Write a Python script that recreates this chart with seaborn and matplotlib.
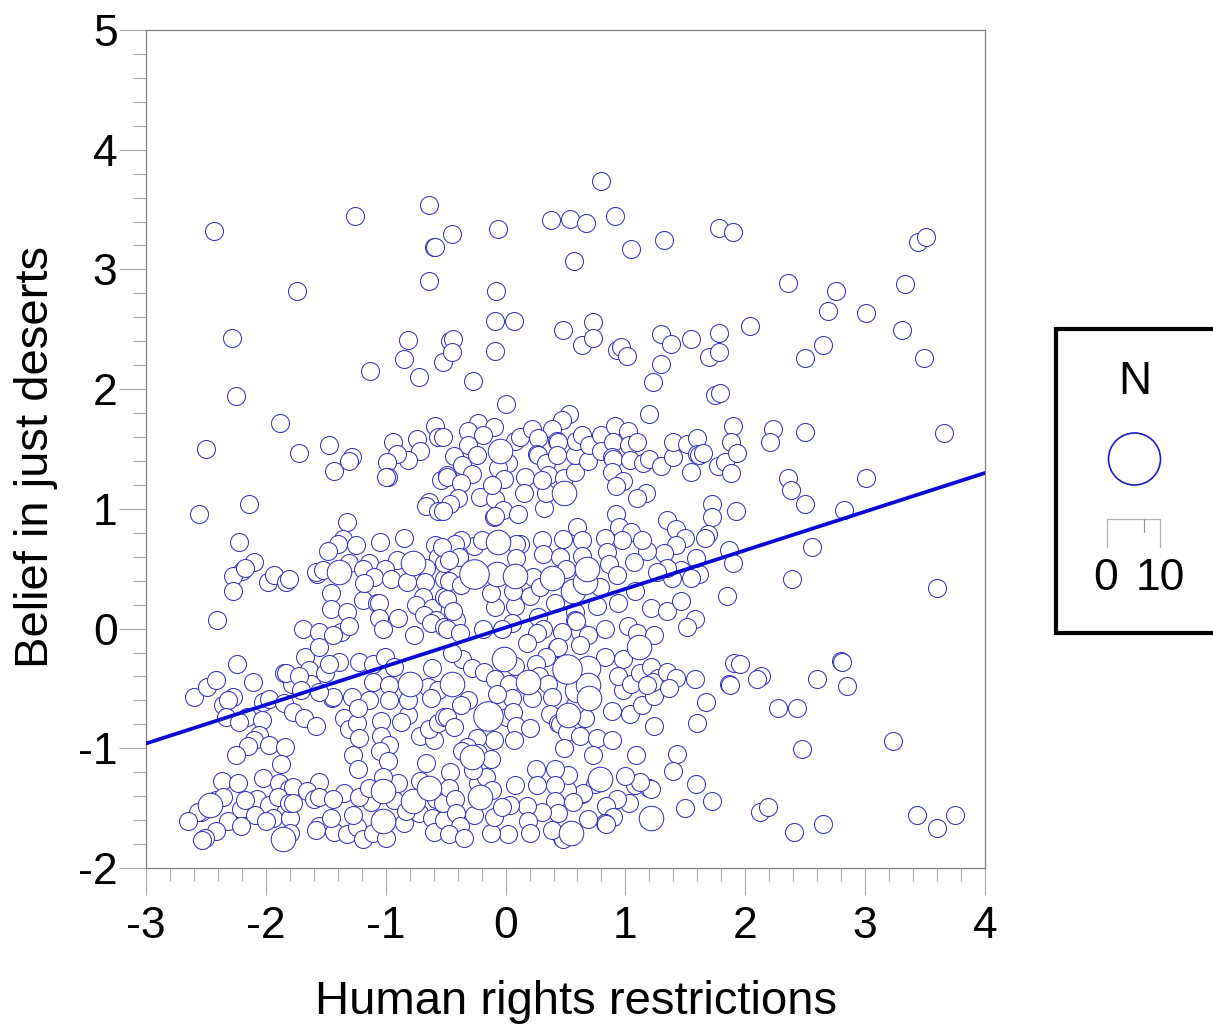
import pandas as pd
import matplotlib.pyplot as plt
import seaborn as sns
from matplotlib.patches import Circle, Rectangle
from matplotlib.ticker import MultipleLocator

# points, (x, y), grouped by N
points_top = [
    (-2.43,3.32),(-1.26,3.45),(-0.64,3.54),(-0.60,3.19),(-0.59,3.19),(-0.45,3.30),(-0.06,3.34),(0.38,3.41),
    (0.54,3.42),(0.67,3.39),(0.80,3.74),(0.91,3.45),(1.05,3.17),(1.32,3.25),(1.78,3.35),(1.90,3.31),
    (3.44,3.23),(3.51,3.27),(0.57,3.07),(-1.74,2.82),(-0.64,2.90),(-0.08,2.82),(2.36,2.89),(2.76,2.82),
    (3.33,2.88),(-2.28,2.43),(-1.13,2.15),(-0.85,2.25),(-0.81,2.41),(-0.72,2.10),(-0.52,2.23),(-0.46,2.40),
    (-0.44,2.42),(-0.45,2.31),(-0.27,2.07),(-0.09,2.57),(-0.09,2.32),(0.07,2.57),(0.48,2.49),(0.64,2.37),
    (0.73,2.56),(0.73,2.43),(0.93,2.33),(0.96,2.35),(1.01,2.28),(1.30,2.46),(1.30,2.21),(1.38,2.38),
    (1.23,2.06),(1.55,2.42),(1.70,2.27),(1.78,2.31),(1.78,2.47),(2.04,2.53),(2.50,2.26),(2.65,2.37),
    (2.69,2.65),(3.01,2.64),(3.31,2.49),(3.49,2.26),(-2.25,1.94),(1.75,1.95),(1.79,1.97),
]
points_upper = [
    (-2.50,1.50),(-2.56,0.96),(-2.14,1.04),(-1.88,1.72),(-1.72,1.47),(-1.47,1.53),(-1.43,1.32),(-1.28,1.43),
    (-1.31,1.40),(-0.94,1.56),(-0.74,1.58),(-0.71,1.48),(-0.81,1.41),(-0.91,1.46),(-0.99,1.39),(-0.98,1.27),
    (-1.00,1.27),(-0.59,1.69),(-0.56,1.60),(-0.54,1.24),(-0.49,1.28),(-0.64,1.06),(-0.66,1.02),(-0.56,0.98),
    (0.53,1.79),(0.47,1.74),(0.39,1.67),(1.20,1.79),(0.00,1.88),(-0.23,1.72),(-0.10,1.68),(-0.31,1.65),
    (-0.19,1.62),(-0.52,1.60),(-0.31,1.53),(-0.24,1.45),(-0.43,1.44),(-0.36,1.37),(-0.28,1.29),(-0.49,1.27),
    (-0.37,1.22),(-0.40,1.09),(-0.46,1.04),(-0.52,0.98),(-0.21,1.10),(-0.09,1.08),(-0.02,0.99),(-0.10,0.93),
    (-0.09,0.94),(0.10,0.96),(0.02,1.38),(-0.06,1.34),(-0.01,1.25),(-0.11,1.20),(0.08,1.57),(0.12,1.60),
    (0.22,1.67),(0.27,1.59),(0.16,1.27),(0.15,1.13),(0.32,1.01),(0.34,1.13),(0.26,1.46),(0.27,1.45),
    (0.34,1.38),(0.43,1.57),(0.44,1.56),(0.43,1.45),(0.35,1.28),(0.30,1.24),(0.49,1.26),(0.58,1.31),
    (0.58,1.45),(0.59,1.57),(0.64,1.62),(0.69,1.40),(0.70,1.53),(0.80,1.62),(0.80,1.48),(0.91,1.69),
    (1.02,1.65),(0.90,1.56),(1.03,1.53),(0.89,1.43),(0.90,1.42),(1.10,1.56),(1.04,1.41),(0.89,1.31),
    (0.98,1.23),(0.92,1.19),(1.15,1.38),(1.20,1.42),(1.30,1.36),(1.40,1.43),(1.40,1.56),(1.51,1.54),
    (1.60,1.59),(1.60,1.46),(1.61,1.45),(1.65,1.47),(1.55,1.31),(1.77,1.36),(1.83,1.39),(1.88,1.30),
    (1.90,1.69),(1.88,1.56),(1.93,1.47),(1.17,1.13),(1.10,1.09),(1.72,1.04),(1.72,0.93),(1.92,0.98),
    (2.23,1.67),(2.21,1.56),(2.50,1.64),(2.36,1.26),(2.38,1.16),(2.50,1.04),(3.01,1.26),(3.66,1.63),
    (2.82,0.99),(2.56,0.68),(2.39,0.41),(3.60,0.34),(1.69,0.79),(1.66,0.76),(0.92,0.96),(0.95,0.85),
    (1.35,0.91),(1.42,0.83),
]
points_middle = [
    (-1.32,0.89),(-1.36,0.75),(-1.40,0.71),(-1.25,0.70),(-1.48,0.65),(-2.22,0.72),(-2.10,0.56),(-2.20,0.48),
    (-2.27,0.44),(-2.17,0.51),(-2.27,0.31),(-2.41,0.07),(-1.98,0.39),(-1.93,0.45),(-1.83,0.39),(-1.81,0.41),
    (-1.57,0.46),(-1.58,0.47),(-1.52,0.49),(-1.31,0.55),(-1.46,0.30),(-1.46,0.16),(-1.32,0.14),(-1.19,0.24),
    (-1.07,0.21),(-1.06,0.21),(-1.06,0.09),(-0.90,0.09),(-1.02,0.00),(-0.76,-0.05),(-1.69,0.00),(-1.56,-0.03),
    (-1.37,-0.03),(-1.31,0.02),(-1.44,-0.05),(-1.05,0.72),(-0.85,0.76),(-0.59,0.70),(-1.14,0.55),(-0.91,0.57),
    (-0.56,0.60),(-0.66,0.51),(-1.01,0.50),(-1.19,0.50),(-1.10,0.43),(-0.96,0.41),(-0.82,0.39),(-0.67,0.39),
    (-1.18,0.38),(-0.69,0.26),(-0.75,0.20),(-0.61,0.17),(-0.68,0.11),(-0.58,0.07),(-0.62,0.05),(-0.51,0.26),
    (-0.51,0.01),(-0.51,0.41),(-0.51,0.55),(1.50,0.76),(1.42,0.70),(1.32,0.63),(1.18,0.65),(1.05,0.81),
    (1.14,0.74),(0.97,0.74),(0.83,0.76),(0.60,0.85),(0.48,0.75),(0.64,0.74),(0.30,0.74),(0.12,0.71),
    (-0.26,0.69),(-0.20,0.74),(-0.37,0.74),(-0.42,0.71),(-0.53,0.68),(0.09,0.71),(-0.39,0.60),(-0.47,0.57),
    (0.09,0.59),(0.31,0.62),(0.45,0.60),(0.64,0.61),(0.85,0.64),(0.86,0.54),(1.07,0.56),(0.93,0.45),
    (0.23,0.43),(0.50,0.50),(0.79,0.35),(0.20,0.27),(0.08,0.19),(-0.09,0.18),(-0.12,0.30),(0.06,0.31),
    (0.29,0.35),(0.41,0.21),(0.58,0.14),(0.76,0.19),(0.94,0.21),(1.08,0.31),(1.21,0.17),(1.35,0.15),
    (1.46,0.23),(1.58,0.08),(1.51,0.01),(1.85,0.27),(1.86,0.66),(1.90,0.55),(1.61,0.46),(1.59,0.59),
    (1.46,0.49),(1.39,0.42),(1.55,0.42),(1.35,0.51),(1.26,0.47),(1.02,0.02),(1.10,-0.04),(1.24,-0.05),
    (0.83,0.00),(0.62,-0.03),(0.58,0.07),(0.59,0.06),(0.47,-0.03),(0.27,0.10),(0.31,0.00),(0.26,-0.04),
    (0.05,0.05),(-0.03,0.00),(-0.19,0.00),(-0.41,0.07),(-0.49,0.00),(-0.38,-0.04),(-0.49,0.25),(-0.44,0.15),
    (-0.47,0.40),(-0.37,0.36),(0.69,-0.05),
]
points_lower = [
    (-2.60,-0.57),(-2.49,-0.49),(-2.42,-0.43),(-2.24,-0.30),(-2.11,-0.45),(-2.36,-0.64),(-2.27,-0.57),(-2.32,-0.60),
    (-2.33,-0.74),(-2.16,-0.74),(-2.22,-0.78),(-2.03,-0.76),(-2.02,-0.61),(-1.97,-0.59),(-1.85,-0.37),(-1.78,-0.46),
    (-1.83,-0.37),(-1.85,-0.62),(-1.77,-0.70),(-1.68,-0.75),(-1.58,-0.81),(-1.67,-0.24),(-1.56,-0.15),(-1.64,-0.35),
    (-1.62,-0.46),(-1.72,-0.40),(-1.71,-0.51),(-1.51,-0.37),(-1.39,-0.28),(-1.47,-0.30),(-1.45,-0.58),(-1.44,-0.57),
    (-1.56,-0.53),(-1.35,-0.75),(-1.31,-0.84),(-1.24,-0.79),(-1.22,-0.91),(-1.28,-0.57),(-1.22,-0.28),(-1.11,-0.30),
    (-1.01,-0.24),(-0.93,-0.32),(-1.11,-0.45),(-0.97,-0.47),(-0.65,-0.49),(-0.61,-0.33),(-1.14,-0.60),(-0.97,-0.60),
    (-1.23,-0.66),(-1.04,-0.77),(-0.81,-0.72),(-0.87,-0.78),(-0.81,-0.60),(-1.04,-0.90),(-0.97,-0.97),(-1.05,-1.02),
    (-0.98,-1.11),(-1.27,-1.06),(-1.23,-1.17),(-0.71,-0.90),(-0.60,-0.93),(-0.64,-0.84),(-0.66,-1.12),(-0.56,-0.79),
    (-0.51,-0.74),(-0.56,-0.51),(-0.62,-0.58),(-2.06,-0.89),(-2.10,-0.93),(-2.15,-0.98),(-2.25,-1.06),(-1.97,-0.97),
    (-1.84,-0.99),(-1.87,-1.13),(0.98,-0.25),(0.83,-0.24),(0.62,-0.14),(0.43,-0.16),(0.44,-0.15),(0.34,-0.24),
    (0.18,-0.12),(0.08,-0.31),(0.25,-0.30),(-0.36,-0.25),(-0.45,-0.20),(-0.28,-0.33),(-0.18,-0.36),(-0.09,-0.42),
    (0.03,-0.46),(0.28,-0.40),(0.35,-0.46),(0.39,-0.57),(0.22,-0.58),(0.05,-0.58),(-0.07,-0.55),(-0.31,-0.60),
    (-0.37,-0.64),(-0.49,-0.74),(-0.43,-0.82),(0.01,-0.74),(0.06,-0.70),(0.09,-0.81),(0.20,-0.83),(0.07,-0.93),
    (-0.10,-0.93),(-0.24,-0.91),(-0.32,-0.99),(-0.23,-1.04),(-0.12,-1.09),(-0.36,-1.02),(0.37,-0.71),(0.44,-0.79),
    (0.45,-0.80),(0.66,-0.75),(0.58,-0.64),(0.51,-0.86),(0.62,-0.90),(0.76,-0.91),(0.89,-0.93),(0.49,-1.00),
    (0.73,-1.06),(1.09,-1.06),(0.89,-0.69),(1.04,-0.71),(1.14,-0.64),(1.24,-0.56),(0.98,-0.51),(0.94,-0.40),
    (1.05,-0.46),(1.12,-0.37),(1.21,-0.32),(1.27,-0.41),(1.23,-0.45),(1.35,-0.36),(1.42,-0.41),(1.58,-0.42),
    (1.36,-0.50),(1.18,-0.47),(1.67,-0.61),(1.24,-0.81),(1.60,-0.79),(1.86,-0.46),(1.87,-0.47),(1.91,-0.29),
    (1.96,-0.30),(2.13,-0.40),(2.10,-0.42),(2.60,-0.42),(2.80,-0.27),(2.81,-0.28),(2.85,-0.48),(2.27,-0.66),
    (2.43,-0.66),(3.23,-0.94),(2.47,-1.01),
]
points_bottom = [
    (-2.37,-1.27),(-2.23,-1.29),(-2.02,-1.25),(-1.89,-1.29),(-1.81,-1.34),(-1.77,-1.32),(-1.56,-1.28),(-1.66,-1.36),
    (-1.60,-1.42),(-1.56,-1.41),(-2.07,-1.42),(-1.97,-1.47),(-2.21,-1.51),(-2.09,-1.56),(-1.94,-1.58),(-1.80,-1.58),
    (-2.32,-1.61),(-2.21,-1.65),(-2.42,-1.43),(-2.54,-1.53),(-2.57,-1.53),(-2.65,-1.61),(-2.42,-1.69),(-2.51,-1.75),
    (-2.53,-1.77),(-2.36,-1.41),(-2.17,-1.43),(-1.90,-1.41),(-1.81,-1.46),(-1.77,-1.46),(-2.00,-1.61),(-1.80,-1.71),
    (-1.56,-1.65),(-1.58,-1.68),(-1.43,-1.70),(-1.32,-1.72),(-1.24,-1.66),(-1.19,-1.76),(-1.11,-1.71),(-1.00,-1.75),
    (-0.85,-1.62),(-1.27,-1.56),(-1.46,-1.58),(-1.35,-1.37),(-1.44,-1.42),(-1.12,-1.45),(-1.22,-1.41),(-1.14,-1.33),
    (-0.93,-1.43),(-0.90,-1.29),(-1.02,-1.24),(-0.71,-1.27),(-0.58,-1.42),(-0.72,-1.54),(-0.83,-1.52),(-0.61,-1.58),
    (-0.60,-1.70),(-0.51,-1.60),(-0.52,-1.46),(1.43,-1.05),(1.40,-1.19),(1.59,-1.30),(1.72,-1.44),(1.50,-1.50),
    (1.20,-1.33),(1.21,-1.34),(1.08,-1.31),(1.12,-1.28),(1.00,-1.23),(1.03,-1.46),(0.93,-1.42),(0.84,-1.48),
    (0.90,-1.57),(0.83,-1.62),(0.84,-1.63),(0.69,-1.59),(0.75,-1.30),(0.64,-1.38),(0.65,-1.37),(0.51,-1.35),
    (0.52,-1.22),(0.41,-1.17),(0.25,-1.17),(0.26,-1.31),(0.08,-1.31),(0.41,-1.31),(0.41,-1.44),(0.56,-1.45),
    (0.44,-1.54),(0.30,-1.53),(0.18,-1.48),(0.04,-1.47),(0.19,-1.61),(0.20,-1.71),(0.02,-1.72),(-0.12,-1.71),
    (-0.10,-1.57),(-0.26,-1.56),(-0.23,-1.29),(-0.16,-1.24),(-0.27,-1.18),(-0.46,-1.20),(-0.47,-1.33),(-0.42,-1.42),
    (-0.41,-1.54),(-0.38,-1.65),(-0.47,-1.72),(-0.35,-1.75),(0.47,-1.75),(0.48,-1.76),(0.39,-1.68),(-0.03,-1.49),
    (-0.11,-1.35),(2.12,-1.53),(2.19,-1.49),(2.41,-1.70),(2.65,-1.63),(3.43,-1.56),(3.60,-1.67),(3.75,-1.56),
]
points_n2 = [
    (-1.39,0.47),(-0.77,0.55),(-0.80,-0.46),(-2.47,-1.47),(-1.86,-1.76),(-0.77,-1.44),(-0.64,-1.33),(-1.02,-1.36),
    (-1.02,-1.61),(-0.06,0.72),(-0.05,1.48),(0.49,1.13),(-0.07,0.46),(0.08,0.44),(0.39,0.42),(0.56,0.31),
    (0.66,0.39),(0.68,0.50),(1.11,-0.15),(-0.01,-0.25),(0.69,-0.33),(-0.45,-0.46),(0.19,-0.45),(0.60,-0.51),
    (0.69,-0.47),(0.70,-0.58),(0.52,-0.72),(-0.28,-1.07),(-0.21,-1.41),(0.79,-1.26),(0.55,-1.71),(1.21,-1.58),
]
points_n3 = [(-0.26,0.46),(0.51,-0.34),(-0.15,-0.73)]

line_x = [-3, 4]
line_y = [-0.96, 1.30]

x_ticks = [-3, -2, -1, 0, 1, 2, 3, 4]
y_ticks = [-2, -1, 0, 1, 2, 3, 4, 5]

# marker widths in px, converted to points
px = 0.72
sizes = {1: (18 * px) ** 2, 2: (24.5 * px) ** 2, 3: (29.5 * px) ** 2}

n1 = points_top + points_upper + points_middle + points_lower + points_bottom
df = pd.DataFrame(n1 + points_n2 + points_n3, columns=['x', 'y'])
df['n'] = [1] * len(n1) + [2] * len(points_n2) + [3] * len(points_n3)

sns.set_theme(style='white')
plt.rcParams['font.family'] = ['Liberation Sans', 'DejaVu Sans']
plt.rcParams['axes.unicode_minus'] = False

fig = plt.figure(figsize=(12.13, 10.25), dpi=100)
ax = fig.add_axes([146 / 1213, 1 - 868 / 1025, 839 / 1213, 838 / 1025])

for n, part in df.groupby('n'):
    sns.scatterplot(data=part, x='x', y='y', s=sizes[n], color='white', edgecolor='#3434c4',
                    linewidth=0.75, legend=False, ax=ax, zorder=2 + n)
sns.lineplot(x=line_x, y=line_y, color='#0808d8', linewidth=2.7, ax=ax, zorder=8)

ax.set_xlim(-3, 4)
ax.set_ylim(-2, 5)
ax.set_xticks(x_ticks)
ax.set_yticks(y_ticks)
ax.set_xticklabels([str(t) for t in x_ticks])
ax.set_yticklabels([str(t) for t in y_ticks])
ax.xaxis.set_minor_locator(MultipleLocator(0.2))
ax.yaxis.set_minor_locator(MultipleLocator(0.2))
ax.tick_params(which='major', length=19.5, width=0.8, color='#a8a8a8', labelsize=32, labelcolor='black',
               bottom=True, left=True)
ax.tick_params(which='minor', length=9.5, width=0.8, color='#a8a8a8', bottom=True, left=True)
ax.tick_params(axis='x', which='major', pad=8)
ax.tick_params(axis='y', which='major', pad=1)
for spine in ax.spines.values():
    spine.set_color('#808080')
    spine.set_linewidth(0.9)
ax.set_xlabel('Human rights restrictions', fontsize=34, color='black', va='center', ha='center')
ax.set_ylabel('Belief in just deserts', fontsize=34, color='black', va='center', ha='center')
ax.xaxis.set_label_coords(0.513, -0.16)
ax.yaxis.set_label_coords(-0.1315, 0.49)

# legend box, drawn in pixel coordinates
leg = fig.add_axes([0, 0, 1, 1], zorder=10)
leg.set_xlim(0, 1213)
leg.set_ylim(1025, 0)
leg.axis('off')
leg.patch.set_alpha(0)
leg.add_patch(Rectangle((1056, 329), 170, 304, fc='white', ec='black', lw=3))
leg.add_patch(Circle((1134.5, 459), 26, fc='white', ec='#1c1cc8', lw=1.2))
leg.plot([1107, 1107, 1160, 1160], [547, 519, 519, 547], color='#b0b0b0', lw=0.9)
leg.plot([1144, 1144], [519, 532], color='#909090', lw=0.8)
leg.text(1135, 382, 'N', fontsize=33, ha='center', va='center', color='black')
leg.text(1106, 578, '0', fontsize=32, ha='center', va='center', color='black')
leg.text(1160, 578, '10', fontsize=32, ha='center', va='center', color='black')

fig.savefig('out.png', dpi=100)
